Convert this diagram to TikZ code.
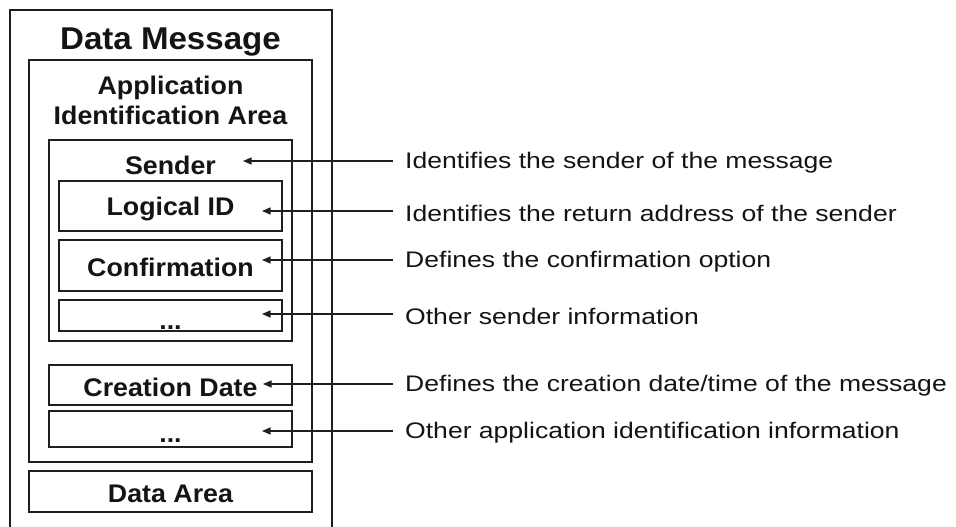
\documentclass[tikz,border=0pt]{standalone}
\usepackage{fontspec}
\setmainfont{Liberation Sans}
\newfontfamily\boxfont[FakeStretch=1.05]{Liberation Sans}
\newfontfamily\lblfont[FakeStretch=1.18]{Liberation Sans}
\usetikzlibrary{arrows.meta}
\begin{document}
\begin{tikzpicture}[x=1pt,y=-1pt,
  box/.style={draw=black!88,line width=1.3pt,inner sep=0pt,rectangle},
  title/.style={font=\boxfont\bfseries\fontsize{31.5}{36}\selectfont,anchor=base,inner sep=0pt,text=black!92},
  lab/.style={font=\boxfont\bfseries\fontsize{25.5}{30}\selectfont,anchor=base,inner sep=0pt,text=black!92,align=center},
  desc/.style={font=\lblfont\fontsize{22.5}{27}\selectfont,anchor=west,inner sep=0pt,text=black!92},
  arr/.style={draw=black!88,line width=1.2pt,-{Triangle[length=8.5pt,width=7pt]}}]
\useasboundingbox (0,0) rectangle (956,527);
\fill[white] (0,0) rectangle (956,527);
% boxes
\node[box,minimum width=322pt,minimum height=530pt] (outer) at (171,275) {};
\node[box,minimum width=283pt,minimum height=402pt] (aia) at (170.5,261) {};
\node[box,minimum width=243pt,minimum height=201pt] (sender) at (170.5,240.5) {};
\node[box,minimum width=223pt,minimum height=50pt] (lid) at (170.5,206) {};
\node[box,minimum width=223pt,minimum height=51pt] (conf) at (170.5,265.5) {};
\node[box,minimum width=223pt,minimum height=31pt] (dots1) at (170.5,315.5) {};
\node[box,minimum width=243pt,minimum height=40pt] (cdate) at (170.5,385) {};
\node[box,minimum width=243pt,minimum height=36pt] (dots2) at (170.5,429) {};
\node[box,minimum width=283pt,minimum height=41pt] (darea) at (170.5,491.5) {};
% box texts
\node[title] (tDM) at (170.5,50) {Data Message};
\node[lab] (tApp) at (170.5,94) {Application};
\node[lab] (tIdA) at (170.5,124) {Identification Area};
\node[lab] (tSnd) at (170.5,174) {Sender};
\node[lab] (tLid) at (170.5,215) {Logical ID};
\node[lab] (tConf) at (170.5,276) {Confirmation};
\node[lab] (tD1) at (170.5,329) {...};
\node[lab] (tCD) at (170.5,396) {Creation Date};
\node[lab] (tD2) at (170.5,442) {...};
\node[lab] (tDA) at (170.5,502) {Data Area};
% descriptions
\node[desc] (d1) at (405,163) {Identifies the sender of the message};
\node[desc] (d2) at (405,213) {Identifies the return address of the sender};
\node[desc] (d3) at (405,262) {Defines the confirmation option};
\node[desc] (d4) at (405,316) {Other sender information};
\node[desc] (d5) at (405,386) {Defines the creation date/time of the message};
\node[desc] (d6) at (405,433) {Other application identification information};
% arrow ends
\coordinate (s1) at (393,161);
\coordinate (s2) at (393,211);
\coordinate (s3) at (393,260);
\coordinate (s4) at (393,314);
\coordinate (s5) at (393,384);
\coordinate (s6) at (393,431);
\coordinate (e1) at (243,161);
\coordinate (e2) at (262,211);
\coordinate (e3) at (262,260);
\coordinate (e4) at (262,314);
\coordinate (e5) at (263,384);
\coordinate (e6) at (262,431);
\draw[arr] (s1) -- (e1);
\draw[arr] (s2) -- (e2);
\draw[arr] (s3) -- (e3);
\draw[arr] (s4) -- (e4);
\draw[arr] (s5) -- (e5);
\draw[arr] (s6) -- (e6);
\end{tikzpicture}
\end{document}
